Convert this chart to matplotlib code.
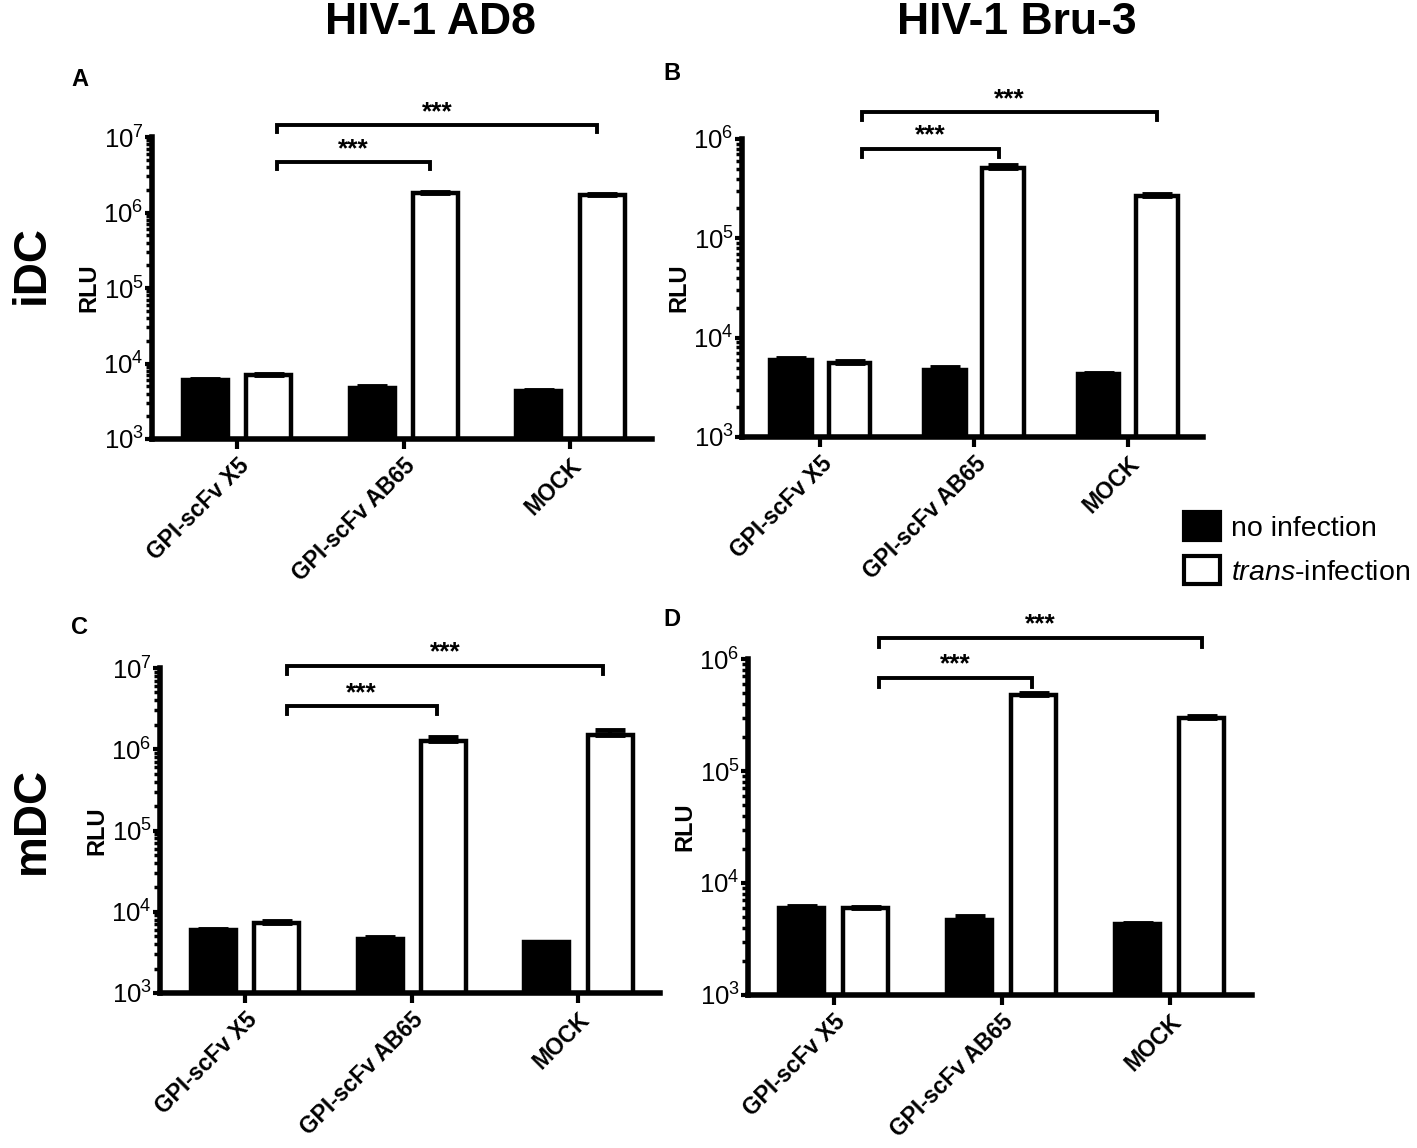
import matplotlib
matplotlib.use('Agg')
import matplotlib.pyplot as plt
from matplotlib.patches import Patch
from matplotlib.ticker import LogLocator, LogFormatterMathtext, NullFormatter
import numpy as np

plt.rcParams['font.family'] = ['Liberation Sans', 'DejaVu Sans']
plt.rcParams['mathtext.fontset'] = 'custom'
plt.rcParams['mathtext.rm'] = 'Liberation Sans'
plt.rcParams['mathtext.it'] = 'Liberation Sans:italic'
plt.rcParams['mathtext.bf'] = 'Liberation Sans:bold'

categories = ['GPI-scFv X5', 'GPI-scFv AB65', 'MOCK']

# panel A: iDC, HIV-1 AD8
a_none = [6000, 4770, 4270]
a_none_err = [250, 250, 120]
a_trans = [6950, 1.82e6, 1.72e6]
a_trans_err = [300, 0.07e6, 0.03e6]

# panel B: iDC, HIV-1 Bru-3
b_none = [5960, 4750, 4280]
b_none_err = [300, 280, 100]
b_trans = [5530, 5.08e5, 2.67e5]
b_trans_err = [350, 0.4e5, 0.1e5]

# panel C: mDC, HIV-1 AD8
c_none = [5890, 4640, 4210]
c_none_err = [250, 300, 80]
c_trans = [7180, 1.25e6, 1.48e6]
c_trans_err = [600, 0.16e6, 0.23e6]

# panel D: mDC, HIV-1 Bru-3
d_none = [5920, 4710, 4280]
d_none_err = [250, 350, 120]
d_trans = [6040, 4.79e5, 3.0e5]
d_trans_err = [80, 0.22e5, 0.08e5]

fig = plt.figure(figsize=(14.17, 11.48), dpi=100)

W, H = 1417.0, 1148.0
# left, right, top, bottom in pixels, ytop, bracket short/long heights (log10), bracket x offsets
panels = [
    dict(letter='A', box=(152, 652, 137, 439), ytop=7, none=a_none, ne=a_none_err, tr=a_trans, te=a_trans_err,
         br=(6.67, 7.16), bl=0.24, brs=0.16, brl=0.16, lpos=(80, 80)),
    dict(letter='B', box=(742, 1203, 139, 437), ytop=6, none=b_none, ne=b_none_err, tr=b_trans, te=b_trans_err,
         br=(5.90, 6.27), bl=0.27, brs=0.16, brl=0.19, lpos=(672, 73)),
    dict(letter='C', box=(160, 660, 668, 993), ytop=7, none=c_none, ne=c_none_err, tr=c_trans, te=c_trans_err,
         br=(6.53, 7.03), bl=0.25, brs=0.15, brl=0.15, lpos=(80, 627)),
    dict(letter='D', box=(748, 1252, 659, 995), ytop=6, none=d_none, ne=d_none_err, tr=d_trans, te=d_trans_err,
         br=(5.83, 6.19), bl=0.27, brs=0.18, brl=0.19, lpos=(672, 620)),
]

x = np.arange(len(categories))
off = 0.19
bw = 0.27
lw = 3.2

for p in panels:
    l, r, t, b = p['box']
    ax = fig.add_axes([l / W, 1 - b / H, (r - l) / W, (b - t) / H])
    ax.set_yscale('log')
    zeros = [0, 0, 0]
    ax.bar(x - off, p['none'], bw, color='black', edgecolor='black', linewidth=lw,
           yerr=[zeros, p['ne']], error_kw=dict(ecolor='black', elinewidth=3, capsize=11, capthick=3.5))
    ax.bar(x + off, p['tr'], bw, color='white', edgecolor='black', linewidth=lw,
           yerr=[zeros, p['te']], error_kw=dict(ecolor='black', elinewidth=3, capsize=11, capthick=3.5))
    ax.set_ylim(1e3, 10 ** p['ytop'])
    ax.set_xlim(-0.51, 2.49)

    for side in ['top', 'right']:
        ax.spines[side].set_visible(False)
    for side in ['left', 'bottom']:
        ax.spines[side].set_linewidth(4)
    ax.yaxis.set_major_locator(LogLocator(base=10, numticks=10))
    ax.yaxis.set_minor_locator(LogLocator(base=10, subs=np.arange(2, 10), numticks=10))
    ax.yaxis.set_major_formatter(LogFormatterMathtext())
    ax.yaxis.set_minor_formatter(NullFormatter())
    ax.tick_params(axis='y', which='major', length=5, width=3, labelsize=18.5, pad=1)
    ax.tick_params(axis='y', which='minor', length=4, width=2.5)
    ax.tick_params(axis='x', which='major', length=7, width=3, pad=4)
    ax.set_xticks(x)
    ax.set_xticklabels(categories, rotation=45, ha='right', rotation_mode='anchor',
                       fontsize=16.5, fontweight='bold')
    ax.set_ylabel('RLU', fontsize=17, fontweight='bold', labelpad=2)

    # significance brackets
    ys, yl = 10 ** p['br'][0], 10 ** p['br'][1]
    xl = 0 + p['bl']
    for yy, xr in [(ys, 1 + p['brs']), (yl, 2 + p['brl'])]:
        dip = yy / 10 ** 0.1 if p['ytop'] == 7 else yy / 10 ** 0.08
        ax.plot([xl, xl, xr, xr], [dip, yy, yy, dip], color='black', lw=2.8,
                clip_on=False, solid_joinstyle='miter')
        ax.text((xl + xr) / 2, yy * 1.03, '***', ha='center', va='bottom',
                fontsize=19, fontweight='bold', clip_on=False)

    fig.text(p['lpos'][0] / W, 1 - p['lpos'][1] / H, p['letter'], fontsize=17,
             fontweight='bold', ha='center', va='center')

fig.text(430 / W, 1 - 23 / H, 'HIV-1 AD8', fontsize=32, fontweight='bold', ha='center', va='center')
fig.text(1017 / W, 1 - 23 / H, 'HIV-1 Bru-3', fontsize=32, fontweight='bold', ha='center', va='center')
fig.text(32 / W, 1 - 265 / H, 'iDC', fontsize=33, fontweight='bold', ha='center', va='center', rotation=90)
fig.text(32 / W, 1 - 820 / H, 'mDC', fontsize=33, fontweight='bold', ha='center', va='center', rotation=90)

handles = [Patch(facecolor='black', edgecolor='black', linewidth=3),
           Patch(facecolor='white', edgecolor='black', linewidth=3)]
fig.legend(handles, ['no infection', r'$\it{trans}$-infection'], loc='upper left',
           bbox_to_anchor=(1184 / W, 1 - 512 / H), frameon=False, fontsize=20.5,
           handlelength=1.25, handleheight=1.15, handletextpad=0.4, labelspacing=0.5,
           borderpad=0, borderaxespad=0)

fig.savefig('out.png', dpi=100)
